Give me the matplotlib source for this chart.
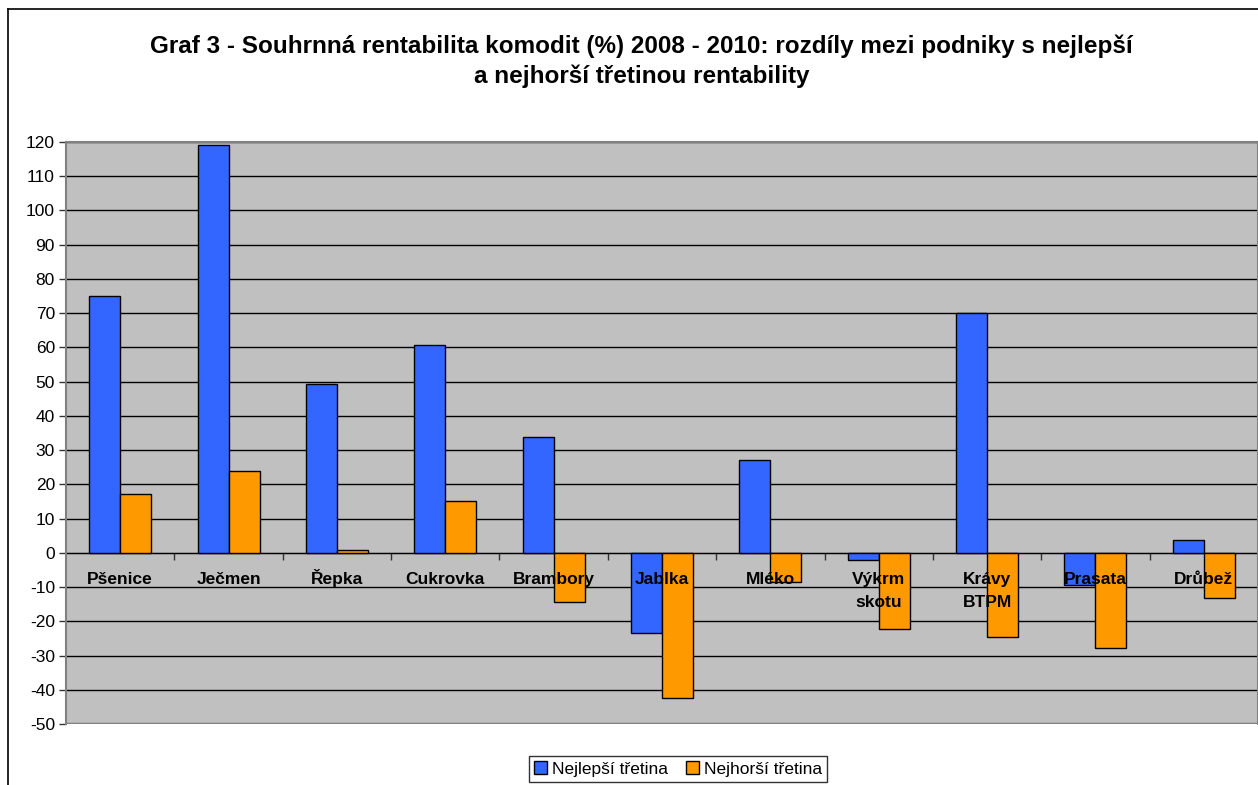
import matplotlib
matplotlib.use("Agg")
import matplotlib.pyplot as plt
import matplotlib.transforms as mtransforms
import numpy as np
from matplotlib.lines import Line2D

plt.rcParams["font.family"] = ["Liberation Sans", "DejaVu Sans"]
plt.rcParams["axes.unicode_minus"] = False

categories = ["Pšenice", "Ječmen", "Řepka", "Cukrovka", "Brambory", "Jablka",
              "Mléko", "Výkrm\nskotu", "Krávy\nBTPM", "Prasata", "Drůbež"]
best_third = [75, 119, 49.4, 60.7, 33.9, -23.4, 27.2, -2.0, 70.1, -9.3, 3.8]
worst_third = [17.2, 24, 0.9, 15.2, -14.3, -42.3, -8.5, -22.2, -24.5, -27.7, -13.1]
series_names = ["Nejlepší třetina", "Nejhorší třetina"]
y_ticks = list(range(-50, 121, 10))

BLUE = "#3366FF"
ORANGE = "#FF9900"

fig = plt.figure(figsize=(12.58, 7.85), dpi=100)
ax = fig.add_axes([66 / 1258, 1 - 724 / 785, 1 - 66 / 1258, (724 - 142) / 785])
ax.set_facecolor("#C0C0C0")

x = np.arange(len(categories))
w = 0.286
ax.bar(x - w / 2, best_third, w, color=BLUE, edgecolor="black", linewidth=1,
       label=series_names[0], zorder=3)
ax.bar(x + w / 2, worst_third, w, color=ORANGE, edgecolor="black", linewidth=1,
       label=series_names[1], zorder=3)

ax.set_xlim(-0.5, len(categories) - 0.5)
ax.set_ylim(-50, 120)
ax.set_yticks(y_ticks)
ax.tick_params(axis="y", labelsize=12.5, length=5, width=1, color="#333333", pad=3)
ax.yaxis.grid(True, color="black", linewidth=1, zorder=0)
ax.set_axisbelow(True)

# category axis crossing at zero, separator ticks between categories
ax.spines["bottom"].set_position(("data", 0))
ax.spines["bottom"].set_color("black")
ax.spines["bottom"].set_zorder(2)
ax.set_xticks([])
ax.set_xticks(np.arange(0.5, len(categories) - 0.5, 1), minor=True)
ax.tick_params(axis="x", which="minor", length=5, width=1, color="#333333", direction="out")

# category labels drawn on top of the bars, one baseline per line
for xi, cat in zip(x, categories):
    for k, line in enumerate(cat.split("\n")):
        tr = mtransforms.offset_copy(ax.transData, fig=fig, y=-31 - 23 * k, units="dots")
        ax.text(xi, 0, line, transform=tr, ha="center", va="baseline",
                fontsize=12.5, fontweight="bold", zorder=6)

for s in ("left", "top", "right"):
    ax.spines[s].set_color("#808080")
    ax.spines[s].set_linewidth(1.5)
ax.axhline(-50, color="#808080", linewidth=2.5, zorder=1)

fig.text(641.5 / 1258, 1 - 46 / 785,
         "Graf 3 - Souhrnná rentabilita komodit (%) 2008 - 2010: rozdíly mezi podniky s nejlepší",
         ha="center", va="center", fontsize=17.5, fontweight="bold")
fig.text(641.5 / 1258, 1 - 76 / 785, "a nejhorší třetinou rentability",
         ha="center", va="center", fontsize=17.5, fontweight="bold")

leg = fig.legend(loc="center", bbox_to_anchor=(678 / 1258, 1 - 769 / 785), ncol=2,
                 fontsize=12.5, frameon=True, fancybox=False, edgecolor="black",
                 handlelength=0.75, handleheight=0.75, handletextpad=0.3,
                 columnspacing=1.0, borderpad=0.3, borderaxespad=0)
leg.get_frame().set_linewidth(1)

# outer chart frame
fig.add_artist(Line2D([8 / 1258, 8 / 1258], [0, 1 - 9 / 785], transform=fig.transFigure,
                      color="black", linewidth=1.2))
fig.add_artist(Line2D([8 / 1258, 1], [1 - 9 / 785, 1 - 9 / 785], transform=fig.transFigure,
                      color="black", linewidth=1.2))

fig.savefig("out.png", dpi=100)
